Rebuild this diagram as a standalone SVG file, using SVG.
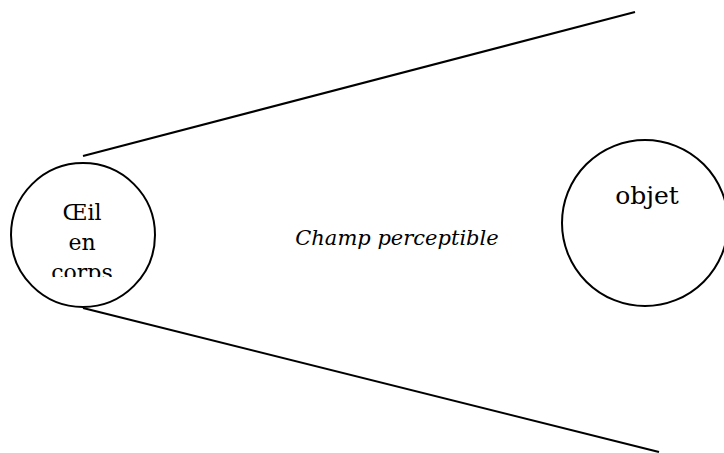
<svg xmlns="http://www.w3.org/2000/svg" width="724" height="453" viewBox="0 0 724 453">
<style>
.shape{fill:none;stroke:#000;stroke-width:2}
.t{font-family:'DejaVu Serif',serif;fill:#000;text-anchor:middle}
</style>
<defs>
<clipPath id="eyeclip"><rect x="40" y="190" width="90" height="87"/></clipPath>
</defs>
<rect width="724" height="453" fill="#fff"/>
<g id="connectors">
<line class="shape" x1="83" y1="156" x2="635" y2="12"/>
<line class="shape" x1="83" y1="308" x2="659" y2="452"/>
</g>
<g id="oeil">
<circle class="shape" cx="83" cy="235" r="72"/>
<g clip-path="url(#eyeclip)">
<text class="t" font-size="22" x="82" y="220">Œil</text>
<text class="t" font-size="22" x="82" y="250">en</text>
<text class="t" font-size="22" x="82" y="280">corps</text>
</g>
</g>
<g id="objet">
<circle class="shape" cx="645" cy="223" r="83"/>
<text class="t" font-size="25" x="647" y="204">objet</text>
</g>
<g id="champ">
<text class="t" font-size="21" font-style="italic" x="397" y="245">Champ perceptible</text>
</g>
</svg>
